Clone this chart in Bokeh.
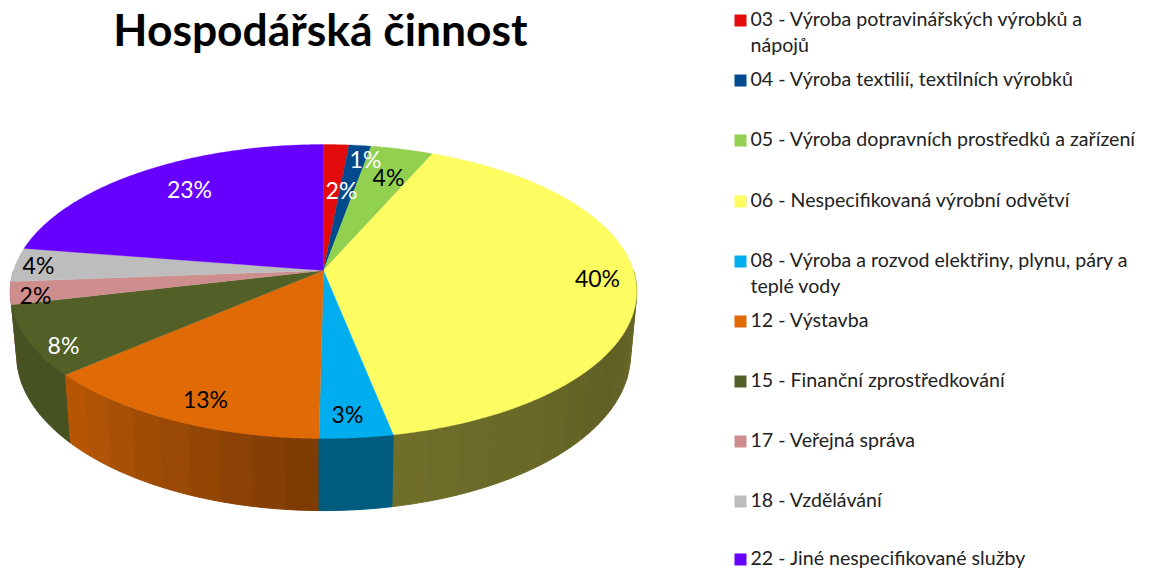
import numpy as np
from bokeh.plotting import figure
from bokeh.core.properties import value
from bokeh.embed import file_html
from bokeh.resources import INLINE

TITLE = "Hospodářská činnost"
categories = [
    "03 - Výroba potravinářských výrobků a\nnápojů",
    "04 - Výroba textilií, textilních výrobků",
    "05 - Výroba dopravních prostředků a zařízení",
    "06 - Nespecifikovaná výrobní odvětví",
    "08 - Výroba a rozvod elektřiny, plynu, páry a\nteplé vody",
    "12 - Výstavba",
    "15 - Finanční zprostředkování",
    "17 - Veřejná správa",
    "18 - Vzdělávání",
    "22 - Jiné nespecifikované služby",
]
shares = [1.5, 1.3, 3.7, 40.4, 3.3, 13.4, 7.7, 2.5, 3.7, 22.5]
share_labels = ["2%", "1%", "4%", "40%", "3%", "13%", "8%", "2%", "4%", "23%"]
colors = ["#E30B0B", "#004A8D", "#92D050", "#FDFD61", "#00AEEF",
          "#E06A06", "#526027", "#CE8E8E", "#BDBDBD", "#6600FF"]
label_colors = ["white", "white", "black", "black", "black",
                "black", "white", "black", "black", "white"]
label_x = [341, 365, 388, 597, 347, 205, 63, 35, 38, 189]
label_y = [189, 158, 176, 277, 413, 398, 344, 294, 264, 188]
legend_y = [18, 78, 138, 199, 259, 319, 379, 439, 499, 557]
marker_y = [20, 80, 140, 201, 261, 321, 381, 441, 501, 559]
# wall brightness by angle (degrees clockwise from the top)
shade_deg = [0, 90, 120, 168, 169, 180, 181, 229, 230, 360]
shade_val = [.43, .43, .38, .44, .53, .53, .55, .83, .85, .85]
WALL_FROM, WALL_TO = 90.0, 270.0

CX, CY, R, B, K = 323.0, 270.0, 310.0, 144.0, 1 / 7


def project(deg):
    t = np.radians(deg)
    w = 1 + K * np.cos(t)
    return CX + R * np.sin(t) / w, CY - B * np.cos(t) / w


def lower(x, y):
    return CX + (x - CX) * 0.98, CY + 62 + (y - CY) * 1.06


def hex_rgb(c):
    return np.array([int(c[i:i + 2], 16) for i in (1, 3, 5)], dtype=float)


def to_hex(rgb):
    return "#%02x%02x%02x" % tuple(int(round(v)) for v in rgb)


edges = np.concatenate([[0], np.cumsum(shares)]) * 360 / sum(shares)

wall_xs, wall_ys, wall_c = [], [], []
top_xs, top_ys = [], []
for i, col in enumerate(colors):
    a0, a1 = edges[i], edges[i + 1]
    w0, w1 = max(a0, WALL_FROM), min(a1, WALL_TO)
    if w1 > w0:
        n = max(2, int(np.ceil((w1 - w0) / 6.0)) + 1)
        steps = np.linspace(w0, w1, n)
        for s0, s1 in zip(steps[:-1], steps[1:]):
            ang = np.linspace(s0, s1, 8)
            x, y = project(ang)
            lx, ly = lower(x, y)
            wall_xs.append(list(x) + list(lx[::-1]))
            wall_ys.append(list(y) + list(ly[::-1]))
            sh = np.interp((s0 + s1) / 2, shade_deg, shade_val)
            wall_c.append(to_hex(hex_rgb(col) * sh))
    ang = np.arange(a0, a1, 0.5).tolist() + [a1]
    x, y = project(np.array(ang))
    top_xs.append([CX] + list(x))
    top_ys.append([CY] + list(y))

p = figure(width=1149, height=569, x_range=(0, 1149), y_range=(569, 0),
           output_backend="svg", toolbar_location=None, min_border=0,
           outline_line_color=None, background_fill_color="white")
p.axis.visible = False
p.grid.visible = False

order = sorted(range(len(wall_xs)), key=lambda j: max(wall_ys[j]))
p.patches(xs=[wall_xs[j] for j in order], ys=[wall_ys[j] for j in order],
          fill_color=[wall_c[j] for j in order], line_color=[wall_c[j] for j in order], line_width=1)
p.patches(xs=top_xs, ys=top_ys, fill_color=colors, line_color=colors, line_width=0.3)

p.text(x=label_x, y=label_y, text=share_labels, text_color=label_colors,
       text_font=value("Lato"), text_font_size="23px",
       text_align="center", text_baseline="middle")

p.text(x=[320], y=[28], text=[TITLE], text_color="black", text_font=value("Lato"),
       text_font_size="44.4px", text_font_style="bold",
       text_align="center", text_baseline="middle")

p.rect(x=[740] * len(colors), y=marker_y, width=12, height=12,
       fill_color=colors, line_color=None)

line_x, line_y, line_t = [], [], []
for name, y in zip(categories, legend_y):
    for k, part in enumerate(name.split("\n")):
        line_x.append(750)
        line_y.append(y + 26 * k)
        line_t.append(part)
p.text(x=line_x, y=line_y, text=line_t, text_color="#222222", text_font=value("Lato"),
       text_font_size="19.6px", text_align="left", text_baseline="middle")

open("out.html", "w").write(file_html(p, INLINE))
